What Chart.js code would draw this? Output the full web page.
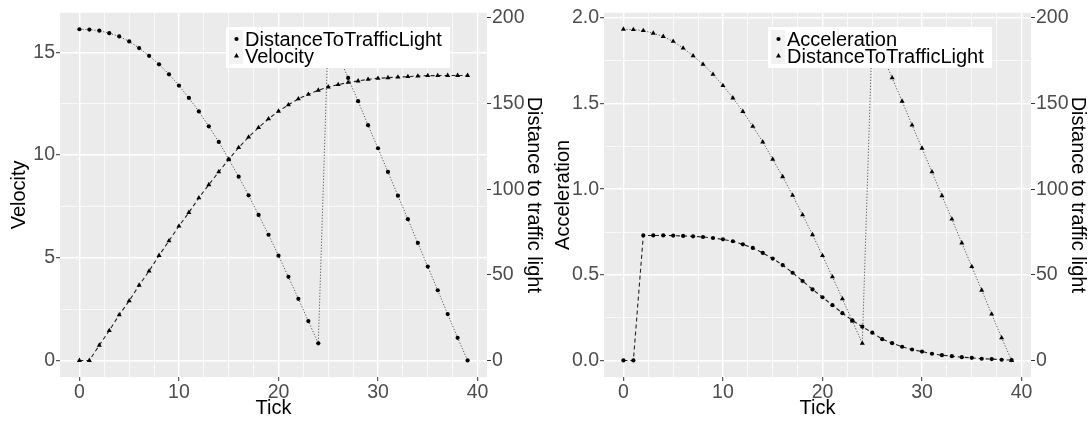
<!DOCTYPE html>
<html>
<head>
<meta charset="utf-8">
<script src="https://cdn.jsdelivr.net/npm/chart.js@4.4.1/dist/chart.umd.min.js"></script>
<style>
  html, body { margin: 0; padding: 0; background: #fff; }
  #wrap { display: flex; width: 1088px; height: 421px; }
  canvas { display: block; }
</style>
</head>
<body>
<div id="wrap">
  <canvas id="leftChart" width="544" height="421"></canvas>
  <canvas id="rightChart" width="544" height="421"></canvas>
</div>
<script>
const ticks = [0, 1, 2, 3, 4, 5, 6, 7, 8, 9, 10, 11, 12, 13, 14, 15, 16, 17, 18, 19,
               20, 21, 22, 23, 24, 25, 26, 27, 28, 29, 30, 31, 32, 33, 34, 35, 36, 37, 38, 39];

const velocity = [0, 0, 0.74, 1.45, 2.22, 2.90, 3.66, 4.35, 5.11, 5.82,
                  6.54, 7.20, 7.91, 8.55, 9.18, 9.78, 10.36, 10.87, 11.33, 11.76,
                  12.13, 12.44, 12.73, 12.95, 13.15, 13.31, 13.42, 13.53, 13.60, 13.68,
                  13.73, 13.76, 13.79, 13.81, 13.84, 13.86, 13.86, 13.87, 13.87, 13.87];

// points 25 and 26 sit behind the legend, estimated
const distance = [193.4, 193.2, 192.6, 191.1, 189.2, 186.3, 182.4, 177.9, 172.9, 167.1,
                  160.5, 153.3, 145.4, 136.7, 127.6, 117.5, 107.3, 96.4, 85.0, 73.4,
                  61.2, 48.8, 36.0, 23.0, 10.0, 192.0, 178.5, 165.0, 151.4, 137.4,
                  123.9, 110.1, 96.2, 82.5, 68.6, 54.8, 41.0, 27.1, 13.2, 0];

const acceleration = [0, 0, 0.730, 0.730, 0.730, 0.729, 0.727, 0.725, 0.721, 0.715,
                      0.707, 0.696, 0.678, 0.657, 0.628, 0.595, 0.557, 0.512, 0.464, 0.415,
                      0.369, 0.323, 0.276, 0.234, 0.197, 0.162, 0.124, 0.101, 0.080, 0.064,
                      0.052, 0.039, 0.031, 0.025, 0.019, 0.015, 0.010, 0.008, 0.004, 0.002];

const xTicks = [0, 10, 20, 30, 40];
const velocityTicks = [0, 5, 10, 15];
const accelTicks = [0, 0.5, 1.0, 1.5, 2.0];
const distanceTicks = [0, 50, 100, 150, 200];

const FONT = '"Liberation Sans", Arial, sans-serif';
Chart.defaults.font.family = FONT;

// majors plus the midpoints between them (ggplot minor grid)
function withMinors(majors, upTo) {
    const step = majors[1] - majors[0];
    const out = [];
    majors.forEach(v => { out.push(v); out.push(v + step / 2); });
    return out.filter(v => v <= upTo);
}
const isMajor = (v, majors) => majors.some(m => Math.abs(m - v) < 1e-9);

// ggplot style 5% expansion
function expand(lo, hi) {
    const pad = (hi - lo) * 0.05;
    return [lo - pad, hi + pad];
}

const panelBg = {
    id: 'panelBg',
    beforeDraw(chart) {
        const {ctx, chartArea: a} = chart;
        ctx.save();
        ctx.fillStyle = '#EBEBEB';
        ctx.fillRect(a.left, a.top, a.width, a.height);
        ctx.restore();
    }
};

// legend drawn on top of the panel, like ggplot legend.position inside
const insetLegend = {
    id: 'insetLegend',
    afterDraw(chart, args, opts) {
        const {ctx} = chart;
        ctx.save();
        ctx.fillStyle = '#FFFFFF';
        ctx.fillRect(opts.x, opts.y, opts.width, opts.height);
        chart.data.datasets.forEach((ds, i) => {
            const top = opts.y + 3 + i * 17;
            ctx.fillStyle = '#F2F2F2';
            ctx.fillRect(opts.x + 3, top, 14, 17);
            ctx.fillStyle = '#000';
            Chart.helpers.drawPoint(ctx, {
                pointStyle: ds.pointStyle, radius: ds.pointRadius, borderWidth: 0, rotation: 0
            }, opts.x + 10.5, top + 9);
            ctx.font = '20px ' + FONT;
            ctx.textBaseline = 'alphabetic';
            ctx.textAlign = 'left';
            ctx.fillText(ds.label, opts.x + 19, top + 16);
        });
        ctx.restore();
    }
};

function dotted(label, values, axis, style) {
    return {
        label: label,
        data: ticks.map((t, i) => ({x: t, y: values[i]})),
        yAxisID: axis,
        borderColor: '#5A5A5A',
        borderWidth: 1,
        borderDash: [1.2, 1.8],
        pointStyle: style,
        pointRadius: style === 'triangle' ? 2.9 : 2.1,
        pointBackgroundColor: '#000',
        pointBorderWidth: 0,
        tension: 0
    };
}

function dashed(label, values, axis, style) {
    return {
        label: label,
        data: ticks.map((t, i) => ({x: t, y: values[i]})),
        yAxisID: axis,
        borderColor: '#222222',
        borderWidth: 1.1,
        borderDash: [4, 3],
        pointStyle: style,
        pointRadius: style === 'triangle' ? 2.9 : 2.1,
        pointBackgroundColor: '#000',
        pointBorderWidth: 0,
        tension: 0
    };
}

function gridOpts(majors) {
    return {
        color: '#FFFFFF',
        lineWidth: c => isMajor(c.tick.value, majors) ? 1.4 : 0.7,
        tickColor: c => isMajor(c.tick.value, majors) ? '#333333' : 'rgba(0,0,0,0)',
        tickWidth: 1,
        tickLength: 4
    };
}

function buildChart(canvasId, datasets, cfg) {
    const [xMin, xMax] = expand(ticks[0], ticks[ticks.length - 1]);
    const [yMin, yMax] = expand(0, cfg.dataMax);
    const leftGrid = withMinors(cfg.leftTicks, yMax);
    const xGrid = withMinors([0, 5, 10, 15, 20, 25, 30, 35, 40], xMax);
    const tickFont = {family: FONT, size: 19.5};
    const titleFont = {family: FONT, size: 20, lineHeight: 1};

    return new Chart(document.getElementById(canvasId), {
        type: 'line',
        data: {datasets: datasets},
        options: {
            responsive: false,
            animation: false,
            events: [],
            layout: {padding: {top: 12, left: 0, right: 0, bottom: 0}},
            plugins: {
                legend: {display: false},
                tooltip: {enabled: false},
                insetLegend: cfg.legend
            },
            scales: {
                x: {
                    type: 'linear',
                    min: xMin,
                    max: xMax,
                    afterFit: s => { s.height = 44; },
                    afterBuildTicks: s => { s.ticks = xGrid.map(v => ({value: v})); },
                    ticks: {
                        autoSkip: false, maxRotation: 0, color: '#4D4D4D', font: tickFont, padding: 0,
                        callback: v => isMajor(v, xTicks) ? String(v) : ''
                    },
                    grid: gridOpts(xTicks),
                    border: {display: false},
                    title: {display: true, text: 'Tick', color: '#000', font: titleFont, padding: {top: 0, bottom: 3}}
                },
                y: {
                    type: 'linear',
                    position: 'left',
                    min: yMin,
                    max: yMax,
                    afterFit: s => { s.width = 60; },
                    afterBuildTicks: s => { s.ticks = leftGrid.map(v => ({value: v})); },
                    ticks: {
                        autoSkip: false, color: '#4D4D4D', font: tickFont, padding: 1,
                        callback: v => isMajor(v, cfg.leftTicks) ? cfg.fmt(v) : ''
                    },
                    grid: gridOpts(cfg.leftTicks),
                    border: {display: false},
                    title: {display: true, text: cfg.leftTitle, color: '#000', font: titleFont, padding: {top: 9}}
                },
                y2: {
                    type: 'linear',
                    position: 'right',
                    min: yMin * cfg.factor,
                    max: yMax * cfg.factor,
                    afterFit: s => { s.width = 57; },
                    afterBuildTicks: s => { s.ticks = distanceTicks.map(v => ({value: v})); },
                    ticks: {autoSkip: false, color: '#4D4D4D', font: tickFont, padding: 1},
                    grid: {drawOnChartArea: false, tickColor: '#333333', tickWidth: 1, tickLength: 4},
                    border: {display: false},
                    title: {display: true, text: 'Distance to traffic light', color: '#000', font: titleFont, padding: {top: 0}}
                }
            }
        },
        plugins: [panelBg, insetLegend]
    });
}

buildChart('leftChart', [
    dotted('DistanceToTrafficLight', distance, 'y2', 'circle'),
    dashed('Velocity', velocity, 'y', 'triangle')
], {
    dataMax: Math.max(Math.max(...velocity), Math.max(...distance) / 12),
    factor: 12,
    leftTicks: velocityTicks,
    leftTitle: 'Velocity',
    fmt: v => String(v),
    legend: {x: 226, y: 27, width: 224, height: 41}
});

buildChart('rightChart', [
    dashed('Acceleration', acceleration, 'y', 'circle'),
    dotted('DistanceToTrafficLight', distance, 'y2', 'triangle')
], {
    dataMax: Math.max(Math.max(...acceleration), Math.max(...distance) / 100),
    factor: 100,
    leftTicks: accelTicks,
    leftTitle: 'Acceleration',
    fmt: v => v.toFixed(1),
    legend: {x: 224, y: 27, width: 224, height: 41}
});
</script>
</body>
</html>
